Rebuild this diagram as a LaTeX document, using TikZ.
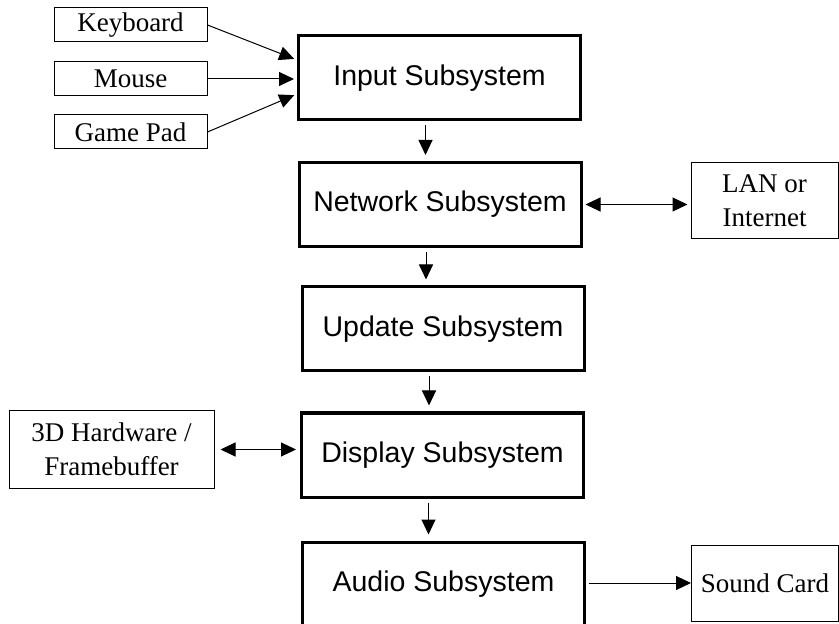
\documentclass[tikz,border=0pt]{standalone}
\usepackage{fontspec}
\setmainfont{Liberation Serif}
\newfontfamily\arialfont{Liberation Sans}
\usepackage{tikz}
\usetikzlibrary{arrows.meta,calc,positioning}
\tikzset{>={Triangle[length=7.5pt,width=7pt]}}
\tikzset{
  subsys/.style={draw, line width=1.5pt, minimum width=141pt, minimum height=42pt, inner sep=0pt,
    font=\arialfont\fontsize{14.25}{17}\selectfont},
  device/.style={draw, line width=0.5pt, align=center, inner sep=0pt,
    font=\fontsize{13.5}{17}\selectfont},
  small/.style={device, minimum width=76.5pt, minimum height=17pt},
  big/.style={device, minimum width=73.5pt, minimum height=38pt},
  link/.style={->, line width=0.5pt}
}

\begin{document}
\begin{tikzpicture}[x=0.5pt,y=-0.5pt]
                        \useasboundingbox (0,0) rectangle (839,624);

                        % input devices
                        \node[small] (keyboard) at (130.5,25) {Keyboard};
                        \node[small] (mouse) at (130.5,79) {Mouse};
                        \node[small] (gamepad) at (130.5,132) {Game Pad};

                        % subsystems
                        \node[subsys] (input) at (439.5,78) {Input Subsystem};
                        \node[subsys] (network) at (440,204.5) {Network Subsystem};
                        \node[subsys] (update) at (443,329) {Update Subsystem};
                        \node[subsys] (display) at (442.5,455) {Display Subsystem};
                        \node[subsys] (audio) at (443.5,584) {Audio Subsystem};

                        % outside world
                        \node[big] (lan) at (764.5,201) {LAN or\\Internet};
                        \node[device, minimum width=102.5pt, minimum height=38.5pt] (hardware) at (111.5,449.5) {3D Hardware /\\Framebuffer};
                        \node[big] (soundcard) at (765,583) {Sound Card};

                        \draw[link, shorten >=1.5pt] (keyboard.east) -- ([yshift=9pt]input.west);
                        \draw[link, shorten >=1.5pt] (mouse.east) -- (mouse.east -| input.west);
                        \draw[link, shorten >=1.5pt] (gamepad.east) -- ([yshift=-8pt]input.west);

                        \foreach \a/\b in {input/network, network/update, update/display, display/audio}
                        {
                        \draw[link, shorten <=2pt, shorten >=3pt] ([xshift=-7pt]\a.south) -- ([xshift=-7pt]\a.south |- \b.north);
                        }

                        \draw[link, <->, shorten <=1.5pt, shorten >=1.5pt] (network.east) -- (network.east -| lan.west);
                        \draw[link, <->, shorten <=3pt, shorten >=2pt] (hardware.east) -- (hardware.east -| display.west);
                        \draw[link, shorten <=1.5pt] (soundcard.west -| audio.east) -- (soundcard.west);
                    \end{tikzpicture}
\end{document}
